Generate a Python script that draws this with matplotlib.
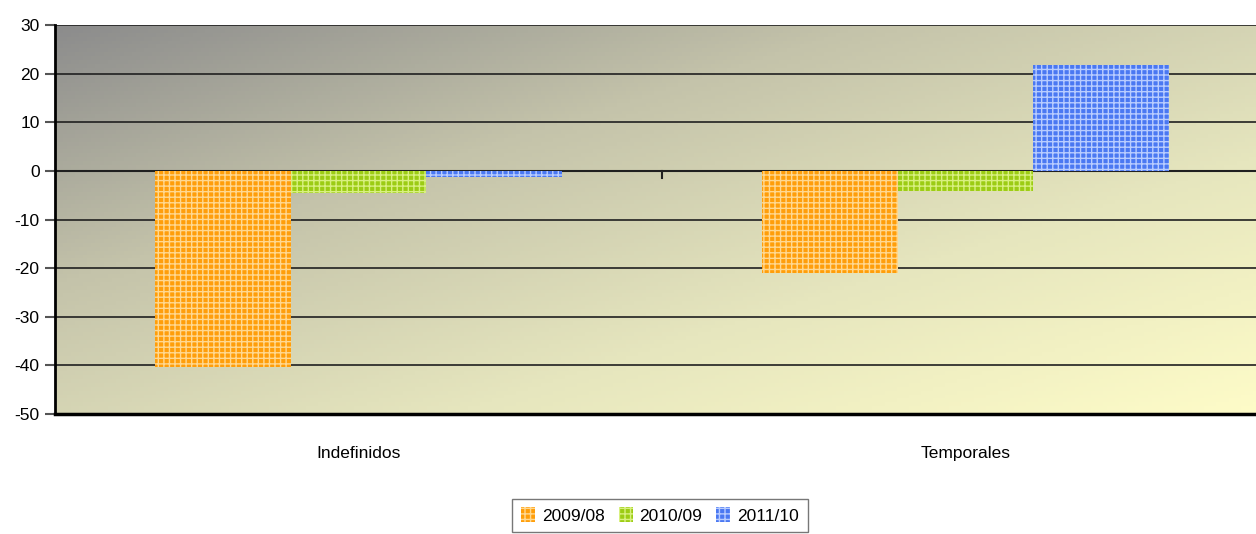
import numpy as np
import matplotlib.pyplot as plt
from matplotlib.colors import LinearSegmentedColormap

plt.rcParams['font.family'] = ['Liberation Sans', 'DejaVu Sans']
plt.rcParams['axes.unicode_minus'] = False

# Datos
categorias = ['Indefinidos', 'Temporales']
series = ['2009/08', '2010/09', '2011/10']
v_2009_08 = [-40.3, -21.0]
v_2010_09 = [-4.5, -4.1]
v_2011_10 = [-1.2, 21.8]
yticks = [-50, -40, -30, -20, -10, 0, 10, 20, 30]

colores = ['#FF9E0A', '#9CCC14', '#4A78F2']
claros = ['#FFD890', '#D8F080', '#B8CCFF']

fig = plt.figure(figsize=(12.56, 5.34), dpi=100)
ax = fig.add_axes([55 / 1256, 120 / 534, 1214 / 1256, 389 / 534])

# Fondo degradado (gris arriba-izquierda -> amarillo abajo-derecha)
cmap = LinearSegmentedColormap.from_list('fondo', ['#8C8C8C', '#C4C3AA', '#E6E6BE', '#FEFCC8'])
nx, ny = 300, 100
gx, gy = np.meshgrid(np.linspace(0, 1, nx), np.linspace(0, 1, ny))
grad = (gx + gy) / 2
ax.imshow(grad, cmap=cmap, extent=(0, 1, 0, 1), origin='upper', aspect='auto',
          transform=ax.transAxes, zorder=0)

x = np.arange(len(categorias))
ancho = 0.224
plt.rcParams['hatch.linewidth'] = 1.0
for i, (vals, nombre) in enumerate(zip([v_2009_08, v_2010_09, v_2011_10], series)):
    ax.bar(x + (i - 1) * ancho, vals, ancho, color=colores[i], edgecolor=claros[i],
           linewidth=0, hatch='+++', label=nombre, zorder=3)

ax.set_xlim(-0.5, 1.5)
ax.set_ylim(-50, 30)
ax.set_yticks(yticks)
ax.yaxis.grid(True, color='#202020', linewidth=1.2, zorder=1)
ax.set_axisbelow(True)
ax.axhline(0, color='#202020', linewidth=1.5, zorder=2)
# marca de separación de categorías sobre el eje 0
ax.plot([0.5, 0.5], [0, -1.5], color='#202020', linewidth=1.5, zorder=2)

ax.set_xticks(x)
ax.set_xticklabels(categorias, fontsize=12.5)
ax.tick_params(axis='x', length=0, pad=23)
ax.tick_params(axis='y', length=7, width=1.5, color='#555555', labelsize=12.5, pad=4)

for s in ['top', 'right']:
    ax.spines[s].set_visible(False)
ax.spines['left'].set_linewidth(2)
ax.spines['bottom'].set_linewidth(2.5)
ax.spines['left'].set_zorder(4)
ax.spines['bottom'].set_zorder(4)

leg = fig.legend(loc='upper center', bbox_to_anchor=(660 / 1256, 44 / 534), ncol=3,
                 fontsize=12.5, frameon=True, fancybox=False, edgecolor='#555555',
                 handlelength=0.8, handleheight=0.9, handletextpad=0.4, columnspacing=0.8,
                 borderpad=0.5)
leg.get_frame().set_linewidth(1)

fig.savefig('out.png', dpi=100)
